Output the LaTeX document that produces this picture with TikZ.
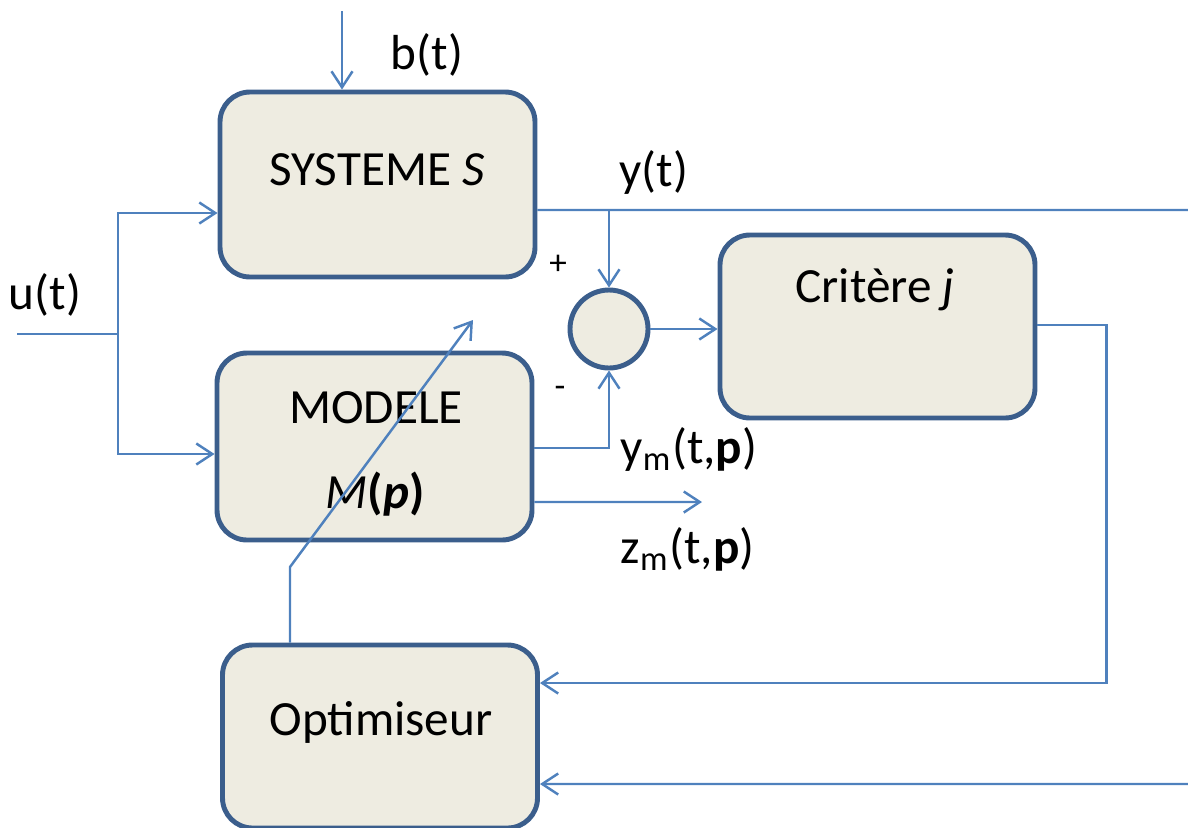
\documentclass[tikz,border=0pt]{standalone}
\usepackage{fontspec}
\setmainfont{Carlito}
\usetikzlibrary{arrows.meta}
\definecolor{boxfill}{HTML}{EEECE1}
\definecolor{boxborder}{HTML}{3B5E8C}
\definecolor{wire}{HTML}{4F81BD}
\tikzset{
  block/.style={rectangle, rounded corners=3mm, draw=boxborder, fill=boxfill, line width=1.4pt, minimum width=31.5mm, minimum height=18.5cm/10, inner sep=0pt},
  sumnode/.style={circle, draw=boxborder, fill=boxfill, line width=1.4pt, minimum size=7.8mm, inner sep=0pt},
  wireline/.style={draw=wire, line width=0.7pt},
  flow/.style={wireline, -{Straight Barb[length=1.6mm, width=2.1mm]}},
  signal/.style={inner sep=0pt, anchor=center},
  sign/.style={inner sep=0pt, font=\fontsize{10pt}{12pt}\selectfont}
}

\begin{document}
\begin{tikzpicture}[x=0.1mm, y=-0.1mm, font=\fontsize{14pt}{17pt}\selectfont]
\useasboundingbox (0,0) rectangle (1188,827);

\node[block] (sys) at (377.5, 184.5) {};
\node[block, minimum height=18.7mm] (model) at (374.5, 446.5) {};
\node[block, minimum height=18.3mm] (crit) at (877.5, 326.5) {};
\node[block, minimum height=18.3mm] (opt) at (380, 736.5) {};
\node[sumnode] (sum) at (609, 329) {};

\node[signal] (systxt) at (377, 170) {SYSTEME \textit{S}};
\node[signal] (modtxt) at (376, 408) {MODELE};
\node[signal] (mptxt) at (375, 494) {\textit{M}\textbf{(\textit{p})}};
\node[signal] (crittxt) at (875, 290) {Critère \textit{j}};
\node[signal] (opttxt) at (381, 722) {Optimiseur};

\node[signal] (blbl) at (427, 55) {b(t)};
\node[signal] (ulbl) at (45, 295) {u(t)};
\node[signal] (ylbl) at (654, 172) {y(t)};
\node[signal, anchor=west] (ymlbl) at (620, 449) {y\textsubscript{m}(t,\textbf{p})};
\node[signal, anchor=west] (zmlbl) at (620, 549) {z\textsubscript{m}(t,\textbf{p})};
\node[sign] (plus) at (558, 265) {+};
\node[sign] (minus) at (560, 392) {-};

\coordinate (bin) at (342, 11);
\coordinate (uin) at (17, 334);
\coordinate (usplit) at (118, 334);
\coordinate (yout) at (1188, 210);
\coordinate (zout) at (702, 502);
\coordinate (yfb) at (1188, 784);
\coordinate (pbend) at (290, 567);
\coordinate (padj) at (473, 320);

\draw[flow] (bin) -- (bin |- sys.north);
\draw[wireline] (uin) -- (usplit);
\draw[flow] (usplit) |- ([yshift=-2.85mm]sys.west);
\draw[flow] (usplit) |- ([yshift=-0.75mm]model.west);
\draw[wireline] ([yshift=-2.55mm]sys.east) -- (yout);
\draw[flow] (sum.north |- yout) -- (sum.north);
\draw[flow] ([yshift=-0.15mm]model.east) -| (sum.south);
\draw[flow] ([yshift=-5.55mm]model.east) -- (zout);
\draw[flow] (sum.east) -- (sum.east -| crit.west);
\draw[flow] ([yshift=0.15mm]crit.east) -- ++(69,0) |- ([yshift=5.35mm]opt.east);
\draw[flow] (yfb) -- ([yshift=-4.75mm]opt.east);
\draw[flow] (pbend |- opt.north) -- (pbend) -- (padj);

\end{tikzpicture}
\end{document}
